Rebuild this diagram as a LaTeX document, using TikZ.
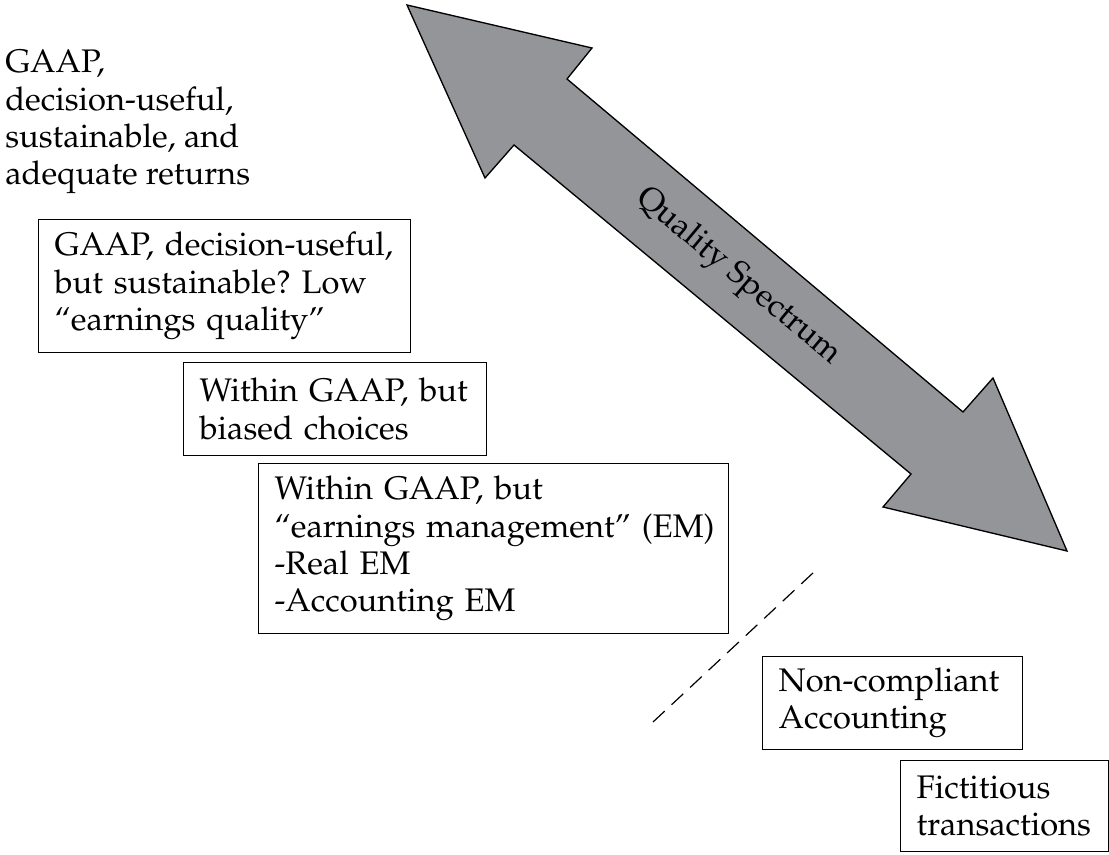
\documentclass[tikz,border=0pt]{standalone}
\usepackage[T1]{fontenc}
\usepackage{mathpazo}
\definecolor{spectrumgray}{RGB}{147,149,153}
\frenchspacing
\begin{document}
\begin{tikzpicture}[x=0.75pt,y=-0.75pt]

    \tikzset{
      stage/.style={
        draw,
        line width=0.9pt,
        anchor=north west,
        align=left,
        inner xsep=12pt,
        inner ysep=0pt,
        font=\fontsize{24.5}{28}\selectfont,
      },
    }
    \useasboundingbox (0,0) rectangle (1109,855);
	% quality spectrum arrow
	\draw[line width=1pt,fill=spectrumgray,line join=miter] (407,5)--(592,48)--(567,79)--(963,412)--(993,378)--(1067,551)--(883,507)--(911,474)--(514,145)--(485,178)--cycle;
	\node (spectrum) at (738,277) [rotate=-39.9,font=\fontsize{24.5}{28}\selectfont] {Quality Spectrum};

	\node (best) at (5,50) [anchor=north west,align=left,inner sep=0pt,font=\fontsize{24.5}{28}\selectfont] {GAAP,\\decision-useful,\\sustainable, and\\adequate returns};
	\node (lowq) at (38,219) [stage,text width=255pt,minimum height=99.75pt] {GAAP, decision-useful,\\but sustainable? Low\\``earnings quality''};
	\node (biased) at (183,362) [stage,text width=203.25pt,minimum height=69.75pt] {Within GAAP, but\\biased choices};
	\node (em) at (258,463) [stage,text width=328.5pt,minimum height=127.5pt] {Within GAAP, but\\\mbox{``earnings management'' (EM)}\\-Real EM\\-Accounting EM};
	\node (noncomp) at (762,656) [stage,text width=171pt,minimum height=69.75pt] {Non-compliant\\Accounting};
	\node (fict) at (900,760) [stage,text width=132pt,minimum height=68.25pt] {Fictitious\\transactions};

	\coordinate (cutlow) at (653,722);
	\coordinate (cuthigh) at (814,572);
	\draw[line width=0.9pt,dash pattern=on 12pt off 7pt] (cutlow)--(cuthigh);

\end{tikzpicture}
\end{document}
